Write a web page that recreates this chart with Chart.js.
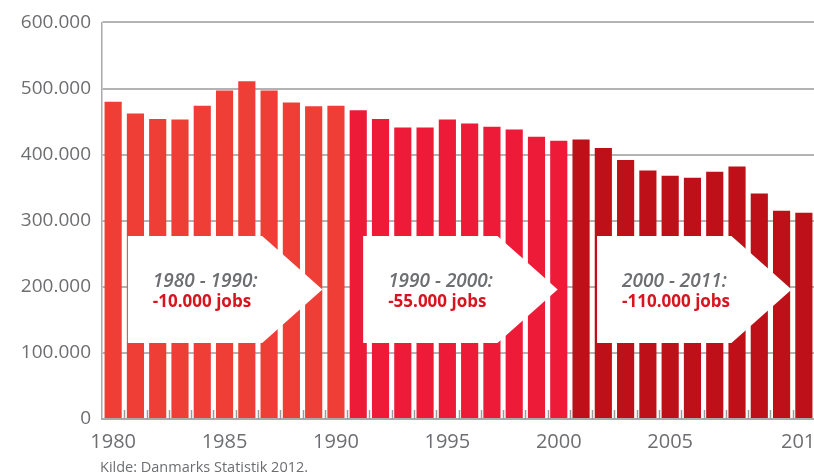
<!DOCTYPE html>
<html>
<head>
<meta charset="utf-8">
<script src="https://cdn.jsdelivr.net/npm/chart.js@4"></script>
<style>
  html, body { margin: 0; padding: 0; background: #fff; overflow: hidden; width: 814px; height: 476px; }
  #wrap { position: relative; width: 840px; height: 476px; }
  #source { position: absolute; left: 100px; top: 457px; font: 14.5px "Open Sans", sans-serif; color: #6d6e71; }
</style>
</head>
<body>
<div id="wrap">
  <canvas id="jobs"></canvas>
  <div id="source">Kilde: Danmarks Statistik 2012.</div>
</div>
<script>
const years = ['1980', '1981', '1982', '1983', '1984', '1985', '1986', '1987', '1988', '1989',
  '1990', '1991', '1992', '1993', '1994', '1995', '1996', '1997', '1998', '1999',
  '2000', '2001', '2002', '2003', '2004', '2005', '2006', '2007', '2008', '2009',
  '2010', '2011'];
const jobs = [480000, 462000, 454000, 453000, 474000, 497000, 511000, 497000, 479000, 473000,
  474000, 467000, 454000, 441000, 441000, 453000, 447000, 442000, 438000, 427000,
  421000, 423000, 410000, 392000, 376000, 368000, 365000, 374000, 382000, 341000,
  315000, 312000];
const labeledYears = ['1980', '1985', '1990', '1995', '2000', '2005', '2011'];
const yTicks = [0, 100000, 200000, 300000, 400000, 500000, 600000];

// periods: last year of each colour band and the text in the arrows
const periodEnd = [1990, 2000, 2011];
const periodColors = ['#ef3e36', '#ed1b38', '#bd1019'];
const periodTitles = ['1980 - 1990:', '1990 - 2000:', '2000 - 2011:'];
const periodChanges = ['-10.000 jobs', '-55.000 jobs', '-110.000 jobs'];

const barColors = years.map(y => {
    const idx = periodEnd.findIndex(end => Number(y) <= end);
    return periodColors[idx];
});

const fmt = v => v === 0 ? '0' : (v / 1000).toFixed(0) + '.000';

// small upward ticks between the bars on the x axis
const innerTicks = {
    id: 'innerTicks',
    afterDatasetsDraw(chart) {
        const x = chart.scales.x;
        const ctx = chart.ctx;
        const bottom = chart.chartArea.bottom;
        ctx.save();
        ctx.strokeStyle = '#9a9a9a';
        ctx.lineWidth = 1.5;
        for (let i = 1; i < years.length; i++) {
            const px = Math.round((x.getPixelForValue(i - 1) + x.getPixelForValue(i)) / 2) + 0.5;
            ctx.beginPath();
            ctx.moveTo(px, bottom);
            ctx.lineTo(px, bottom - 9);
            ctx.stroke();
        }
        ctx.restore();
    }
};

// white arrow boxes with the change per period
const arrows = {
    id: 'arrows',
    afterDatasetsDraw(chart) {
        const x = chart.scales.x;
        const y = chart.scales.y;
        const ctx = chart.ctx;
        const step = x.getPixelForValue(1) - x.getPixelForValue(0);
        const starts = [0.66, 11.22, 21.72];
        const top = y.getPixelForValue(277000);
        const bottom = y.getPixelForValue(115000);
        const mid = (top + bottom) / 2;
        ctx.save();
        starts.forEach((s, k) => {
            const left = x.getPixelForValue(s);
            const corner = left + step * 6.03;
            const tip = corner + step * 2.7;
            ctx.fillStyle = '#ffffff';
            ctx.beginPath();
            ctx.moveTo(left, top);
            ctx.lineTo(corner, top);
            ctx.lineTo(tip, mid);
            ctx.lineTo(corner, bottom);
            ctx.lineTo(left, bottom);
            ctx.closePath();
            ctx.fill();

            ctx.textBaseline = 'middle';
            ctx.textAlign = 'left';
            ctx.fillStyle = '#6d6e71';
            ctx.font = 'italic 600 19px "Open Sans", sans-serif';
            ctx.fillText(periodTitles[k], left + 25, mid - 8);
            ctx.fillStyle = '#d7141f';
            ctx.font = 'bold 17px "Open Sans", sans-serif';
            ctx.fillText(periodChanges[k], left + 25, mid + 13);
        });
        ctx.restore();
    }
};

new Chart(document.getElementById('jobs'), {
    type: 'bar',
    data: {
        labels: years,
        datasets: [{
            data: jobs,
            backgroundColor: barColors,
            borderWidth: 0,
            barPercentage: 0.77,
            categoryPercentage: 1
        }]
    },
    options: {
        responsive: true,
        maintainAspectRatio: false,
        animation: false,
        layout: { padding: { top: 10, right: 25, bottom: 11, left: 0 } },
        plugins: {
            legend: { display: false },
            tooltip: { enabled: false }
        },
        scales: {
            x: {
                grid: { display: false, drawTicks: false },
                border: { display: true, color: '#a7a9ac', width: 2 },
                ticks: {
                    autoSkip: false,
                    maxRotation: 0,
                    padding: 11,
                    color: '#6d6e71',
                    font: { family: 'Open Sans', size: 20 },
                    callback: function (v) {
                        const label = this.getLabelForValue(v);
                        return labeledYears.includes(label) ? label : '';
                    }
                },
                afterFit: s => { s.paddingRight = 0; s.paddingLeft = 0; }
            },
            y: {
                min: 0,
                max: 600000,
                afterBuildTicks: s => { s.ticks = yTicks.map(v => ({ value: v })); },
                grid: { color: '#b3b3b3', lineWidth: 2, drawTicks: false },
                border: { display: true, color: '#a7a9ac', width: 1.5 },
                ticks: {
                    padding: 11,
                    color: '#6d6e71',
                    font: { family: 'Open Sans', size: 19 },
                    callback: v => fmt(v)
                },
                afterFit: s => { s.width = 102; }
            }
        }
    },
    plugins: [innerTicks, arrows]
});
</script>
</body>
</html>
